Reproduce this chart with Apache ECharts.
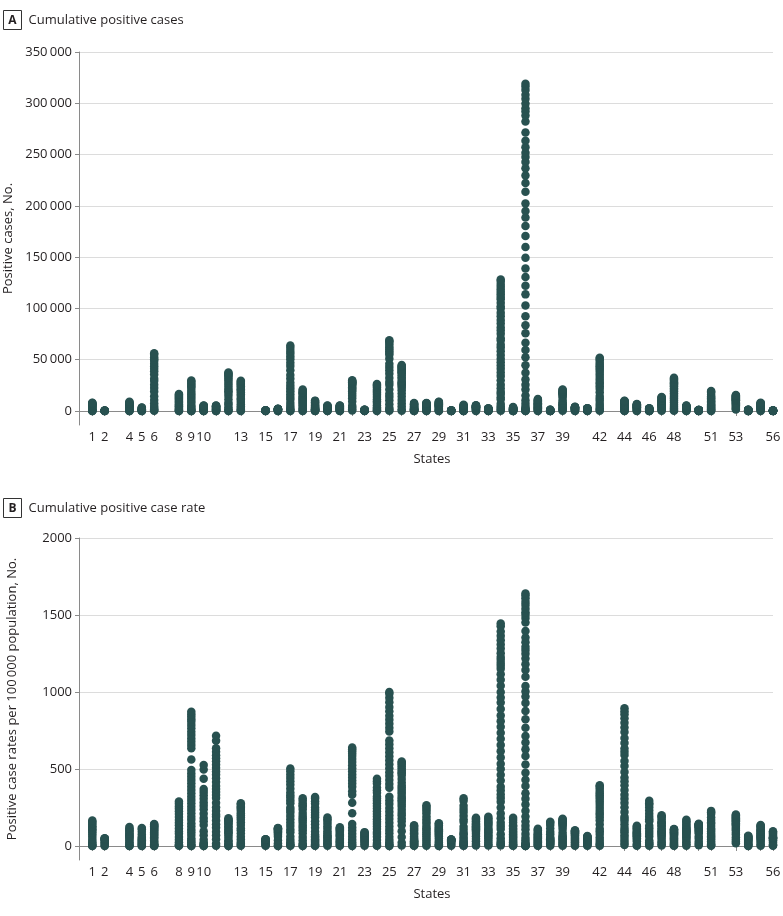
<!DOCTYPE html>
<html><head><meta charset="utf-8">
<script src="https://cdn.jsdelivr.net/npm/echarts@6/dist/echarts.min.js"></script>
<style>html,body{margin:0;padding:0;background:#fff}#chart{width:783px;height:916px}</style>
</head><body><div id="chart"></div>
<script>
// State FIPS codes (x categories)
const states = [1,2,4,5,6,8,9,10,11,12,13,15,16,17,18,19,20,21,22,23,24,25,26,27,28,29,30,31,32,33,34,35,36,37,38,39,40,41,42,44,45,46,47,48,49,50,51,53,54,55,56];
const xLabelValues = [1,2,4,5,6,8,9,10,13,15,17,19,21,23,25,27,29,31,33,35,37,39,42,44,46,48,51,53,56];
const yTicksA = [0,50000,100000,150000,200000,250000,300000,350000];
const yTicksB = [0,500,1000,1500,2000];

// Panel A: cumulative positive cases (one array of daily dots per state, same order as states)
const positiveCases = [
 [6,78,283,720,1077,1580,2197,2968,3734,4345,4888,5317,5778,6270,6750,7294,7725,8112],
 [1,36,119,185,246,293,321,341,355,368],
 [9,104,326,1157,1769,2575,3393,3962,4511,4929,5459,6045,6716,7202,7648,8364,8924],
 [6,62,232,473,643,875,1119,1280,1569,1744,2276,2810,3281,3496],
 [133,675,1733,3006,4914,7482,10701,14336,18897,22348,25536,29157,31431,35465,38802,41137,43558,46164,48747,50442,52197,54937,56212],
 [45,216,591,1430,2307,3342,4565,5429,6513,7691,8675,9730,10878,11964,12968,13879,14758,15768,16635],
 [5,96,415,1291,2571,3824,5276,7781,9784,12035,13989,15884,17550,19815,22469,23921,25269,26767,28764,29764],
 [7,68,214,393,673,928,1326,1761,2323,2745,3200,3576,4162,4575,4918,5208,5288],
 [10,102,304,653,998,1440,1778,2197,2476,2927,3361,3841,4106,4323,4658,5016,5322],
 [77,563,1682,3763,6338,8010,11545,14747,17531,19355,21019,23340,25492,27495,29648,31528,33193,34728,35463,36897,37439],
 [121,620,1525,2808,4748,6647,8818,10885,12261,14578,16368,18301,19881,21214,22491,24200,25431,26264,27270,28602,29451],
 [10,77,151,258,351,435,499,541,584,601,609,619],
 [5,68,310,669,1078,1270,1407,1587,1672,1766,1870,1952,2015,2061,2106],
 [105,585,1535,3026,5057,7695,11256,13549,16422,19180,22025,24593,27575,31508,35108,39658,43903,46979,50355,53200,56055,58505,61499,63777],
 [30,365,1232,2565,3953,5507,6907,7928,8955,10154,11210,12097,13039,14399,15961,17182,17835,18630,19933,21033],
 [44,124,336,614,868,1145,1388,1710,1995,2332,2902,3748,4445,5092,5868,6843,7884,8641,9703,10111],
 [34,261,482,747,1046,1337,1588,1790,2048,2386,2777,3328,3738,4238,4746,5030,5383],
 [35,248,591,917,1149,1452,1840,2210,2707,3050,3373,3779,4146,4539,4879,5130,5431],
 [479,1795,3315,5237,9150,12496,14867,17030,19253,20595,21951,23118,24523,25739,26512,27286,27660,28001,28711,29340,29996],
 [32,155,275,376,470,560,633,735,796,875,937,1023,1095,1153,1205],
 [107,423,1239,2331,3609,5529,7694,9472,11572,13684,15737,17766,19487,20849,22969,24473,25462,26408],
 [218,1159,3240,6620,10402,13837,16790,20974,25475,28163,32181,36372,39643,42944,46023,50969,54938,56462,58302,60265,62205,64311,66263,68087,69087],
 [334,1791,4650,7615,10791,14225,17221,20346,22783,24638,25635,27001,28059,29263,31424,32967,34815,36641,37778,38210,39262,40399,41379,42356,43207,43950,44800],
 [35,169,346,576,742,935,1154,1336,1621,1695,1912,2213,2567,2942,3446,4181,4644,5136,5730,6228,6663,7234,7851],
 [50,249,663,1073,1455,1915,2260,2642,3087,3360,3793,4274,4716,5153,5718,6342,6815,7212,7550,7877],
 [28,255,670,1327,2113,3037,3799,4388,4895,5283,5890,6137,6650,7171,7562,8167,8754,9102],
 [16,90,171,241,319,354,394,415,426,437,443,451,455,456],
 [32,81,145,255,367,519,635,901,1138,1474,1648,2421,3028,3374,3784,4281,5064,5659,6083],
 [95,420,920,1458,1953,2456,2836,3088,3321,3524,3728,3937,4208,4398,4602,4934,5227,5444,5630],
 [44,137,314,479,669,819,929,1091,1211,1342,1447,1588,1787,1938,2054,2146,2310,2429,2588],
 [350,1327,2844,4402,6876,11124,13386,16636,18696,22255,25590,29895,34124,37505,41090,44416,47437,51027,54588,58151,61850,64584,68824,71030,75317,78467,81420,85301,88806,92387,95865,99989,102196,105498,109038,111188,113856,116264,118652,121190,123717,126744,128269],
 [23,83,208,315,495,686,865,1091,1245,1407,1597,1798,1971,2210,2379,2660,2823,3213,3513,3850],
 [22,173,524,950,1700,2382,4152,7102,10356,15168,20875,25665,30811,37258,44635,52318,59513,66497,75795,83712,92381,102863,113704,122031,130689,138863,149316,159937,170512,180458,188694,195031,202208,213779,222284,229642,236732,242786,247512,251690,257216,263460,271590,282143,288045,291996,295106,299691,304372,308314,312977,316415,318953],
 [97,398,1040,1584,2093,2585,3221,3651,4312,4886,5113,5859,6493,6951,7608,8052,8830,9568,10509,11071,11664],
 [19,68,122,159,207,251,278,331,365,439,585,709,867,1033,1153,1191],
 [169,867,1653,2547,3739,4782,5512,6250,7153,8414,10222,12919,14694,15963,16769,17303,18027,18743,19335,20474,20969],
 [53,322,565,988,1252,1524,1794,2069,2357,2680,2894,3121,3280,3473,3618,3748,3851,4044],
 [88,209,414,690,826,999,1181,1321,1527,1663,1844,1956,2059,2177,2311,2446,2510,2635,2759],
 [206,1127,2751,4963,7016,10017,12300,14559,18228,21719,24199,26490,28258,30675,33232,35684,37994,40208,41877,43264,45137,46971,49267,50957,51845],
 [66,203,566,922,1229,1727,2015,2665,3251,3529,4177,4706,5090,5500,5841,6256,6699,7439,8247,8621,8962,9289,9652,9933],
 [81,342,774,1554,2049,2552,3065,3320,3553,3931,4246,4439,4761,5070,5490,5881,6095,6489,6757],
 [21,90,129,212,320,536,868,1168,1411,1542,1685,1858,2040,2212,2373,2449,2588],
 [228,784,1537,2239,3321,4138,4862,5308,5827,6262,6589,7238,7842,8726,9189,10052,10366,10735,11891,12661,13177,13571],
 [194,1024,2552,4068,6110,8262,10230,12105,13906,15492,17371,19260,20658,22255,23773,24631,26171,27054,28087,29229,30522,31548,32332],
 [78,346,719,1012,1428,1738,1976,2317,2542,2738,2931,3069,3213,3445,3612,3837,4123,4495,4828,5175,5449],
 [29,95,184,293,389,512,575,628,679,727,759,779,806,825,855,862,866,879,902],
 [99,391,1020,1706,2637,3645,4509,5274,6171,6889,8053,8990,9630,10998,12366,12970,14339,15846,17731,18671,19492],
 [1376,2221,3207,4311,5608,6585,7591,8384,9097,9887,10411,10783,11152,11790,12282,12753,13176,13686,14070,14637,15185,15594],
 [8,39,113,191,282,412,524,633,702,755,807,890,939,1010,1083,1137,1191],
 [106,457,1221,1912,2440,2885,3213,3555,3875,4199,4620,4845,5356,5687,6081,6289,6854,7314,7660,7964],
 [11,28,70,130,187,221,261,282,296,313,322,335,396,453,491,545,579,604]
];

// Panel B: cumulative positive case rate per 100 000 population
const caseRates = [
 [0,2,6,15,22,32,45,61,76,89,100,108,118,128,138,149,157,165],
 [0,5,16,25,34,40,44,47,49,50],
 [0,1,4,16,24,35,47,54,62,68,75,83,92,99,105,115,123],
 [0,2,8,16,21,29,37,42,52,58,75,93,109,116],
 [0,2,4,8,12,19,27,36,48,57,65,74,80,90,98,104,110,117,123,128,132,139,142],
 [1,4,10,25,40,58,79,94,113,134,151,169,189,208,225,241,256,274,289],
 [0,3,12,24,36,50,72,90,107,128,148,170,190,212,234,255,277,298,320,342,363,385,407,428,450,471,493,562,634,656,677,698,720,742,764,786,807,823,839,856,872],
 [0,3,7,15,22,40,69,95,136,160,181,210,239,262,282,306,329,350,370,436,496,526],
 [1,14,43,70,93,118,141,165,190,204,228,252,280,311,331,351,370,390,415,440,462,484,506,528,550,570,590,612,634,684,716],
 [0,3,8,18,29,37,54,69,82,90,98,109,119,128,138,147,155,162,165,172,180],
 [1,6,14,26,44,62,83,102,115,137,154,172,187,200,212,228,240,248,257,269,277],
 [1,5,11,18,25,31,35,38,41,42,43,44],
 [0,4,17,37,60,71,79,89,94,99,105,109,113,115,117],
 [1,5,12,24,40,61,89,107,130,151,174,194,218,234,249,277,295,313,330,347,371,397,420,442,462,485,503],
 [0,5,18,38,59,82,103,118,133,151,167,180,194,214,237,255,265,277,296,310],
 [1,4,11,19,28,36,44,54,63,74,92,119,141,161,186,202,217,234,250,274,290,308,318],
 [1,9,17,26,36,46,55,61,70,82,95,114,128,146,163,173,185],
 [1,6,13,21,26,33,41,49,61,68,75,85,93,102,109,115,122],
 [0,10,25,40,60,80,100,120,142,212,280,333,355,385,405,425,445,465,485,505,525,545,565,585,600,615,628,640],
 [2,12,21,28,35,42,47,55,59,65,70,76,81,86,90],
 [2,7,20,39,60,78,91,110,127,142,157,174,191,208,226,243,260,277,294,308,322,345,362,380,405,421,437],
 [0,4,12,24,41,60,83,104,127,151,175,198,223,247,272,296,320,378,403,428,454,479,505,530,556,583,608,634,660,685,743,768,793,819,846,875,903,933,962,988,1000],
 [3,22,58,95,135,160,178,200,215,235,254,270,285,297,308,320,338,351,366,380,393,412,435,458,472,478,491,505,517,530,540,549],
 [1,3,6,10,13,17,20,24,29,30,34,39,46,52,61,74,82,91,102,110,118,128,135],
 [2,8,22,36,49,64,76,89,104,113,127,144,158,173,192,213,229,242,254,265],
 [0,4,11,22,34,49,62,71,80,86,96,100,108,117,123,133,142,147],
 [1,8,16,23,30,33,37,39,40,41,41,42,42],
 [2,4,7,13,19,27,33,47,59,76,85,105,125,157,174,196,221,240,262,293,310],
 [3,14,30,47,63,80,92,100,108,114,121,128,137,143,149,160,170,177,183],
 [3,10,23,35,49,60,68,80,89,99,106,117,131,143,151,158,170,179,190],
 [4,12,20,32,50,77,110,130,151,180,211,250,288,312,335,360,384,425,463,500,534,575,615,655,697,735,775,810,848,890,932,965,1000,1040,1080,1115,1151,1170,1188,1210,1228,1252,1282,1309,1336,1365,1393,1427,1444],
 [1,4,10,15,24,33,41,52,59,67,76,86,94,105,113,127,135,153,168,184],
 [0.1,0.9,2.7,4.9,8.7,12.2,21.3,36.5,53.2,78.0,107.3,132.0,158.4,191.6,229.5,269.0,306.0,341.9,389.7,430.4,475.0,528.9,584.6,627.4,671.9,714.0,767.7,822.3,876.7,927.8,970.2,1002.7,1039.6,1099.1,1142.9,1180.7,1217.1,1248.3,1272.6,1294.1,1322.5,1354.6,1396.4,1450.6,1481.0,1501.3,1517.2,1540.8,1564.9,1585.2,1609.1,1626.8,1639.9],
 [1,4,10,15,20,25,31,35,41,47,49,56,62,66,73,77,84,91,100,106,112],
 [2,9,16,21,27,33,36,43,48,58,77,93,114,136,151,158],
 [1,7,14,22,32,41,47,53,61,72,87,110,125,136,143,148,154,160,165,172,177],
 [1,8,14,25,32,39,45,52,60,68,73,79,83,88,91,95,97,102],
 [2,5,10,16,20,24,28,31,36,39,44,46,49,52,55,58,60,62,65],
 [2,9,21,39,55,78,95,112,140,166,185,203,216,234,253,272,289,305,318,329,343,357,374,387,395],
 [6,19,36,53,70,87,101,116,140,163,177,190,220,252,280,307,333,363,394,420,444,481,519,552,591,612,633,668,702,740,770,800,830,855,875,895],
 [2,7,15,30,40,50,60,64,69,76,82,86,92,98,107,114,118,126,131],
 [2,10,15,24,36,61,80,98,115,132,160,174,190,210,231,250,268,277,294],
 [3,11,23,33,49,61,71,78,85,92,96,106,115,128,135,147,152,157,174,185,193,199],
 [1,4,9,14,21,28,35,42,48,53,60,66,71,77,82,85,90,93,97,101,105,109,111],
 [2,11,22,32,45,54,62,72,79,85,91,96,100,107,112,120,129,140,151,161,170],
 [5,15,29,47,62,82,92,101,109,117,122,125,129,132,137,138,139,141,145],
 [1,5,12,20,31,43,53,62,72,81,94,105,113,129,145,152,168,186,208,219,228],
 [18,29,42,57,74,86,100,110,119,130,137,142,146,155,161,167,173,180,185,192,199,205],
 [0,2,6,11,16,23,29,35,39,42,45,50,52,56,60,63,66],
 [2,8,21,33,42,50,55,61,67,72,79,83,92,98,104,108,118,126,132,137],
 [2,5,12,22,32,38,45,49,51,54,56,58,68,78,85,91,96]
];

function toPoints(perState) {
  const out = [];
  perState.forEach((vals, i) => vals.forEach(v => out.push([states[i], v])));
  return out;
}
function fmt(v) {
  return v >= 10000 ? String(v).replace(/\B(?=(\d{3})+(?!\d))/g, '\u2009') : String(v);
}

const FONT = '"Open Sans"';
const TXT = '#231f20';
const AXIS = '#8a8a8a';
const DOT = '#285150';

function xAxisCfg(gi) {
  return {
    type: 'value', gridIndex: gi, min: -0.075, max: 56,
    name: 'States', nameLocation: 'middle', nameGap: 28,
    nameTextStyle: {fontFamily: FONT, fontSize: 13, color: TXT, padding: [0,0,0,12]},
    axisLine: {show: true, lineStyle: {color: AXIS, width: 1}},
    axisTick: {show: true, length: 5, lineStyle: {color: AXIS}, customValues: states},
    axisLabel: {fontFamily: FONT, fontSize: 13, color: TXT, margin: 6, customValues: xLabelValues, hideOverlap: false},
    splitLine: {show: false}
  };
}
function yAxisCfg(gi, min, max, ticks, name) {
  return {
    type: 'value', gridIndex: gi, min: min, max: max,
    name: name, nameLocation: 'middle', nameGap: 60, nameRotate: 90,
    nameTextStyle: {fontFamily: FONT, fontSize: 13, color: TXT},
    axisLine: {show: true, onZero: false, lineStyle: {color: AXIS, width: 1}},
    axisTick: {show: true, length: 4, lineStyle: {color: AXIS}, customValues: ticks},
    axisLabel: {fontFamily: FONT, fontSize: 13, color: TXT, margin: 7, customValues: ticks, formatter: fmt},
    splitLine: {show: true, lineStyle: {color: '#dcdcdc', width: 1}}
  };
}
function panelTitle(letter, text, top) {
  return {
    type: 'group', left: 3, top: top,
    children: [
      {type: 'rect', shape: {x: 0, y: 0, width: 18, height: 19}, style: {fill: '#fff', stroke: '#333', lineWidth: 1}},
      {type: 'text', x: 9, y: 10, style: {text: letter, font: 'bold 12px ' + FONT, fill: TXT, align: 'center', verticalAlign: 'middle'}},
      {type: 'text', x: 25, y: 10, style: {text: text, font: '13px ' + FONT, fill: TXT, align: 'left', verticalAlign: 'middle'}}
    ]
  };
}

const chart = echarts.init(document.getElementById('chart'), null, {renderer: 'canvas'});
chart.setOption({
  animation: false,
  backgroundColor: '#fff',
  graphic: [panelTitle('A', 'Cumulative positive cases', 10), panelTitle('B', 'Cumulative positive case rate', 498)],
  grid: [
    {left: 79, right: 10, top: 52, height: 373, containLabel: false, outerBoundsMode: 'none'},
    {left: 79, right: 10, top: 538, height: 322, containLabel: false, outerBoundsMode: 'none'}
  ],
  xAxis: [xAxisCfg(0), xAxisCfg(1)],
  yAxis: [
    yAxisCfg(0, -13649, 350000, yTicksA, 'Positive cases, No.'),
    yAxisCfg(1, -91, 2000, yTicksB, 'Positive case rates per 100\u2009000 population, No.')
  ],
  series: [
    {type: 'scatter', xAxisIndex: 0, yAxisIndex: 0, data: toPoints(positiveCases), symbol: 'circle', symbolSize: 8.5, itemStyle: {color: DOT, opacity: 1}, silent: true, clip: false},
    {type: 'scatter', xAxisIndex: 1, yAxisIndex: 1, data: toPoints(caseRates), symbol: 'circle', symbolSize: 8.5, itemStyle: {color: DOT, opacity: 1}, silent: true, clip: false}
  ]
});
</script>
</body></html>
